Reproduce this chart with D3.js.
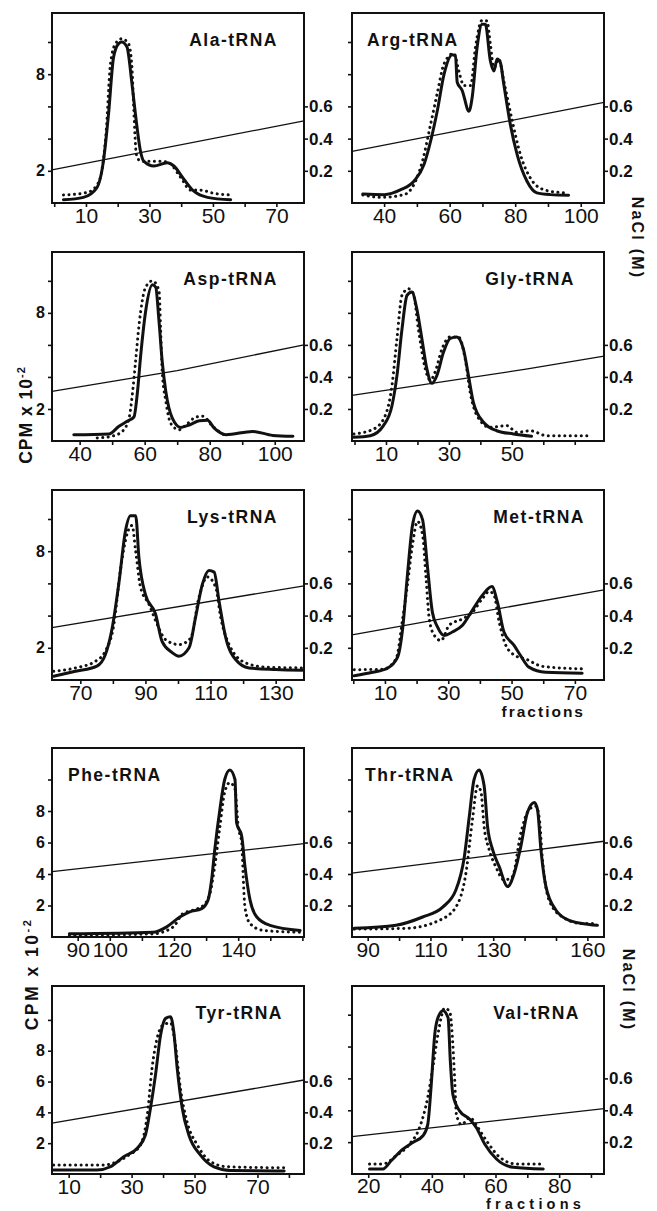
<!DOCTYPE html>
<html lang="en">
<head>
<meta charset="UTF-8">
<title>tRNA elution profiles</title>
<style>
  body { margin: 0; background: #fff; }
  svg text { font-family: "Liberation Sans", Arial, Helvetica, sans-serif; fill: #111; }
</style>
</head>
<body>
<div class="chart"></div>
<script src="https://cdnjs.cloudflare.com/ajax/libs/d3/7.8.5/d3.min.js"></script>
<script>
// ---- data: [fraction, CPM x 10^-2] for the profiles, [fraction, NaCl M] for the gradient ----
var titles = ["Ala-tRNA", "Arg-tRNA", "Asp-tRNA", "Gly-tRNA", "Lys-tRNA",
              "Met-tRNA", "Phe-tRNA", "Thr-tRNA", "Tyr-tRNA", "Val-tRNA"]

var alaSolid = [[2.9,0.2],[9.2,0.35],[13.4,0.94],[15.5,2.6],[17.1,5.5],[18.7,9.06],[20.3,9.9],[21.3,10.0],[22.9,9.7],[24.5,7.4],[25.6,5.5],[27.2,3.2],[28.2,2.6],[31.4,2.3],[35.6,2.5],[37.7,2.3],[40.9,1.46],[44.0,0.73],[48.3,0.35],[55.6,0.2]]
var alaDotted = [[2.9,0.5],[10.3,0.65],[13.4,1.1],[15.0,2.0],[16.4,4.5],[17.7,8.6],[19.3,9.9],[21.3,10.2],[23.4,9.9],[24.5,8.4],[25.0,6.1],[25.9,3.0],[27.2,2.6],[30.3,2.6],[33.5,2.6],[36.1,2.5],[39.8,1.6],[43.0,0.8],[46.1,0.8],[50.3,0.6],[55.6,0.5]]
var alaSalt = [[-0.7,0.206],[78.7,0.51]]

var argSolid = [[33.5,0.56],[40.0,0.52],[45.1,0.83],[49.1,1.35],[52.2,2.4],[54.2,3.85],[56.2,5.7],[58.3,8.0],[60.8,9.2],[61.8,9.1],[62.3,7.5],[63.8,7.0],[65.9,5.7],[66.9,6.6],[68.4,9.7],[69.9,11.1],[70.9,11.1],[72.4,8.85],[73.5,8.2],[74.5,8.95],[75.5,8.7],[76.5,7.4],[78.5,4.9],[80.6,3.0],[83.6,1.35],[86.6,0.63],[90.7,0.52],[96.3,0.48]]
var argDotted = [[33.5,0.5],[39.0,0.35],[46.1,0.52],[49.1,1.15],[51.7,2.6],[54.2,4.9],[56.2,6.8],[58.3,8.65],[61.3,9.3],[62.8,8.2],[64.3,7.3],[66.4,7.3],[67.9,9.7],[69.9,11.35],[71.4,11.3],[72.4,9.9],[73.5,8.4],[75.0,8.95],[76.5,7.6],[79.1,5.1],[81.6,3.0],[84.6,1.56],[88.7,0.83],[94.8,0.63]]
var argSalt = [[30.2,0.32],[107.1,0.625]]

var aspSolid = [[38.2,0.39],[49.0,0.44],[52.1,0.92],[54.6,1.23],[56.7,1.5],[57.7,2.9],[58.8,5.4],[60.3,8.1],[62.4,9.75],[63.4,9.6],[64.4,7.5],[65.4,4.95],[66.5,3.1],[68.5,1.43],[71.1,0.85],[73.7,1.0],[76.8,1.27],[79.3,1.3],[81.4,0.8],[85.0,0.39],[93.2,0.6],[99.4,0.35],[105.6,0.3]]
var aspDotted = [[45.4,0.19],[49.9,0.3],[53.1,0.6],[55.2,1.43],[56.2,2.9],[57.2,4.95],[58.3,7.3],[60.3,9.6],[62.4,10.0],[64.4,9.4],[64.9,7.0],[65.4,4.3],[66.5,2.5],[68.0,1.1],[70.6,0.7],[72.7,1.0],[75.8,1.5],[77.8,1.55],[80.9,0.92],[85.0,0.3]]
var aspSalt = [[31.5,0.31],[70,0.44],[109,0.6]]

var glySolid = [[-0.3,0.23],[5.0,0.33],[9.2,0.96],[11.9,2.2],[13.5,4.1],[15.1,7.0],[16.7,9.1],[18.2,9.3],[19.8,8.25],[21.4,6.4],[23.0,4.5],[24.6,3.6],[26.2,4.1],[28.3,5.55],[30.4,6.4],[32.5,6.5],[34.6,5.75],[36.2,4.1],[37.8,2.4],[41.0,1.17],[45.2,0.64],[50.5,0.44],[56.3,0.3]]
var glyDotted = [[-0.2,0.44],[6.1,0.75],[9.8,1.6],[11.9,3.45],[13.5,6.4],[15.1,9.1],[17.2,9.5],[18.7,9.2],[20.3,7.0],[22.5,4.5],[24.1,3.8],[25.6,4.3],[27.8,5.75],[30.4,6.5],[33.0,6.5],[35.2,5.1],[36.8,3.0],[38.9,1.6],[43.1,0.85],[48.4,0.96],[51.6,0.54],[55.8,0.64],[61.1,0.33],[74.9,0.33]]
var glySalt = [[-0.8,0.285],[55,0.45],[79.3,0.53]]

var lysSolid = [[61.8,0.23],[68.5,0.54],[75.1,0.86],[77.7,1.58],[79.8,3.25],[81.8,5.95],[83.9,9.3],[85.4,10.2],[87.0,10.2],[88.0,7.6],[90.0,5.3],[93.1,4.1],[95.1,2.4],[98.2,1.7],[100.3,1.48],[103.4,2.0],[105.4,3.9],[107.5,5.95],[109.5,6.8],[111.1,6.7],[112.6,4.9],[114.7,2.6],[117.7,1.27],[121.8,0.75],[130.0,0.65],[138.2,0.6]]
var lysDotted = [[61.8,0.54],[68.5,0.75],[74.7,1.17],[77.7,1.8],[80.3,3.45],[82.3,6.8],[84.4,9.1],[85.9,9.6],[87.0,8.0],[88.5,5.75],[91.1,4.7],[93.1,3.7],[96.2,2.5],[100.3,2.2],[103.9,2.6],[106.4,5.1],[109.0,6.4],[111.6,5.75],[113.1,3.9],[115.7,2.2],[120.8,1.06],[127.0,0.8],[138.2,0.75]]
var lysSalt = [[61.3,0.325],[138.7,0.585]]

var metSolid = [[0.3,0.27],[6.1,0.48],[10.8,0.73],[14.0,1.42],[15.6,3.2],[17.1,6.5],[18.7,9.6],[20.3,10.5],[21.9,9.95],[23.4,7.1],[25.0,4.2],[26.6,3.3],[28.7,2.77],[31.3,2.98],[34.5,3.4],[37.6,4.33],[40.8,5.27],[43.8,5.8],[45.5,4.86],[47.6,2.98],[50.8,2.15],[52.9,1.5],[55.5,0.8],[60.8,0.48],[72.3,0.42]]
var metDotted = [[0.3,0.64],[9.3,0.67],[13.5,1.3],[15.6,3.8],[17.1,5.9],[18.7,8.4],[20.3,9.85],[21.9,9.0],[23.0,6.3],[24.0,3.8],[25.6,2.77],[27.7,2.45],[30.3,3.4],[34.5,3.8],[37.6,4.2],[40.8,5.06],[42.9,5.5],[44.4,5.3],[46.1,3.6],[48.2,2.15],[51.3,1.5],[54.5,1.3],[59.7,0.85],[72.3,0.69]]
var metSalt = [[-0.4,0.28],[79.2,0.56]]

var pheSolid = [[87.4,0.2],[113.4,0.3],[117.6,0.63],[121.8,1.27],[124.9,1.6],[128.6,1.8],[130.6,2.34],[131.7,3.6],[132.7,5.55],[134.3,8.1],[135.8,10.0],[137.4,10.6],[139.0,10.0],[139.5,7.25],[141.1,6.4],[142.1,4.5],[143.7,2.34],[145.8,1.27],[149.9,0.74],[159.3,0.42]]
var pheDotted = [[87.4,0.1],[113.4,0.2],[119.7,0.63],[122.8,1.49],[125.9,1.7],[129.1,2.0],[131.2,2.77],[132.7,4.5],[134.3,7.0],[135.8,9.2],[137.4,9.8],[139.0,9.4],[140.0,7.0],[141.1,6.0],[141.6,3.6],[142.1,1.9],[143.7,0.85],[147.8,0.42],[159.3,0.3]]
var pheSalt = [[82,0.415],[160.5,0.593]]

var thrSolid = [[85.7,0.55],[99.0,0.75],[107.5,1.27],[113.9,1.9],[118.1,2.98],[120.8,5.1],[122.4,7.7],[123.9,10.0],[125.5,10.6],[127.1,9.6],[128.2,7.0],[129.8,5.55],[131.9,4.47],[134.6,3.2],[136.7,4.05],[138.8,5.75],[140.9,7.9],[143.1,8.54],[144.1,8.1],[145.2,5.55],[146.8,3.2],[150.0,1.7],[154.2,1.06],[160.6,0.8],[163.2,0.74]]
var thrDotted = [[85.7,0.5],[102.2,0.55],[112.8,1.06],[118.1,1.9],[121.3,4.05],[123.4,7.47],[125.0,9.6],[126.1,9.2],[127.1,7.0],[128.7,5.55],[130.8,4.47],[133.5,3.62],[136.1,3.83],[138.8,6.6],[141.5,8.1],[143.6,8.3],[144.7,7.5],[145.7,4.9],[147.8,2.34],[152.1,1.27],[158.4,0.85],[163.2,0.85]]
var thrSalt = [[85,0.405],[165.3,0.608]]

var tyrSolid = [[5.2,0.26],[19.0,0.26],[23.3,0.47],[27.5,1.12],[31.8,1.67],[34.4,2.53],[36.0,4.27],[37.6,6.43],[39.2,9.0],[40.8,10.1],[42.4,10.2],[43.4,9.24],[44.5,6.86],[46.1,4.27],[48.2,2.53],[51.9,1.23],[56.2,0.47],[61.5,0.23],[78.5,0.2]]
var tyrDotted = [[5.2,0.58],[21.1,0.58],[25.4,0.8],[29.1,1.23],[32.8,1.88],[35.0,3.83],[36.5,6.86],[38.1,8.8],[40.2,9.7],[42.4,9.8],[43.9,8.4],[45.5,5.57],[47.6,3.4],[50.9,1.88],[55.1,0.8],[60.4,0.47],[78.5,0.4]]
var tyrSalt = [[4.7,0.33],[84.8,0.61]]

var valSolid = [[20.4,0.31],[24.6,0.31],[27.2,0.83],[30.9,1.56],[34.0,1.98],[37.2,2.4],[38.7,3.1],[39.8,5.6],[40.9,8.75],[41.9,9.8],[43.5,10.25],[45.1,9.8],[45.8,7.1],[46.6,5.0],[48.7,3.96],[51.9,3.44],[54.0,2.9],[56.6,1.88],[60.3,0.94],[65.6,0.42],[75.0,0.31]]
var valDotted = [[20.4,0.63],[24.6,0.63],[28.8,1.15],[33.0,1.88],[36.1,2.9],[38.7,4.8],[40.3,6.67],[41.9,8.75],[44.0,10.4],[45.6,10.2],[46.6,8.1],[47.2,5.8],[47.7,3.75],[49.3,3.1],[51.9,3.54],[54.5,2.9],[57.2,2.08],[61.4,1.04],[66.6,0.63],[75.0,0.63]]
var valSalt = [[14.9,0.235],[94.1,0.41]]

// fraction range covered by each frame, and the labelled fractions
var xDomains = [[-0.7,78.7],[30.2,107.1],[31.5,109],[-0.8,79.3],[61.3,138.7],
                [-0.4,79.2],[82,160.5],[85,165.3],[4.7,84.8],[14.9,94.1]]
var xTickLabels = [[10,30,50,70],[40,60,80,100],[40,60,80,100],[10,30,50],[70,90,110,130],
                   [10,30,50,70],[90,100,120,140],[90,110,130,160],[10,30,50,70],[20,40,60,80]]
var yTicks = [2,4,6,8,10]
var yTickLabelsSparse = [2,8]
var yTickLabelsFull = [2,4,6,8]
var saltTicks = [0.2,0.4,0.6]

var solids = [alaSolid,argSolid,aspSolid,glySolid,lysSolid,metSolid,pheSolid,thrSolid,tyrSolid,valSolid]
var dots = [alaDotted,argDotted,aspDotted,glyDotted,lysDotted,metDotted,pheDotted,thrDotted,tyrDotted,valDotted]
var salts = [alaSalt,argSalt,aspSalt,glySalt,lysSalt,metSalt,pheSalt,thrSalt,tyrSalt,valSalt]

// ---- layout ----
var width = 657, height = 1211
var colX = [52, 352], panelW = 252
var rowTop = [13, 252, 490, 748, 986]
var rowBot = [203, 441, 680, 937, 1174]
var yTop = [11.8, 11.8, 11.8, 11.8, 11.8, 11.8, 12.0, 12.0, 12.2, 11.8]
// title anchor and offset from the frame's left edge
var titlePos = [["end",226],["start",15],["end",226],["end",223],["end",226],
                ["end",233],["start",16],["start",13],["end",231],["end",228]]

var svg = d3.select(".chart").append("svg")
  .attr("width", width).attr("height", height)

svg.append("rect").attr("width", width).attr("height", height).attr("fill", "#fff")

titles.forEach(function(title, i) {
  var col = i % 2, row = Math.floor(i / 2)
  var x0 = colX[col], x1 = x0 + panelW, y0 = rowTop[row], y1 = rowBot[row]

  var x = d3.scaleLinear().domain(xDomains[i]).range([x0, x1])
  var y = d3.scaleLinear().domain([0, yTop[i]]).range([y1, y0])
  var ySalt = d3.scaleLinear().domain([0, yTop[i] / 10]).range([y1, y0])

  var g = svg.append("g")

  var line = d3.line().x(function(d) { return x(d[0]) }).y(function(d) { return y(d[1]) })
    .curve(d3.curveMonotoneX)
  var saltLine = d3.line().x(function(d) { return x(d[0]) }).y(function(d) { return ySalt(d[1]) })

  g.append("path").attr("d", saltLine(salts[i]))
    .attr("fill", "none").attr("stroke", "#111").attr("stroke-width", 1.3)

  g.append("path").attr("d", line(dots[i]))
    .attr("fill", "none").attr("stroke", "#111").attr("stroke-width", 3)
    .attr("stroke-linecap", "round").attr("stroke-dasharray", "0.1 5.4")

  g.append("path").attr("d", line(solids[i]))
    .attr("fill", "none").attr("stroke", "#111").attr("stroke-width", 3)
    .attr("stroke-linejoin", "round").attr("stroke-linecap", "round")

  // frame
  g.append("rect").attr("x", x0).attr("y", y0).attr("width", panelW).attr("height", y1 - y0)
    .attr("fill", "none").attr("stroke", "#111").attr("stroke-width", 2)

  // bottom axis
  var xTicks = d3.range(Math.ceil(xDomains[i][0] / 10) * 10, xDomains[i][1], 10)
  var xAxis = d3.axisBottom(x).tickValues(xTicks).tickSize(4)
    .tickFormat(function(d) { return xTickLabels[i].indexOf(d) >= 0 ? d : "" })
  var gx = g.append("g").attr("transform", "translate(0," + y1 + ")").call(xAxis)
  gx.select(".domain").remove()
  gx.selectAll("line").attr("stroke", "#111").attr("stroke-width", 1.6)
  gx.selectAll("text").attr("font-size", 21).attr("fill", "#111")
    .attr("y", i === 9 ? 18.5 : 20).attr("dy", 0)

  // left axis (CPM)
  var leftLabels = col === 1 ? [] : (row >= 3 ? yTickLabelsFull : yTickLabelsSparse)
  var yAxis = d3.axisLeft(y).tickValues(yTicks).tickSize(4).tickPadding(3)
    .tickFormat(function(d) { return leftLabels.indexOf(d) >= 0 ? d : "" })
  var gy = g.append("g").attr("transform", "translate(" + x0 + ",0)").call(yAxis)
  gy.select(".domain").remove()
  gy.selectAll("line").attr("stroke", "#111").attr("stroke-width", 1.6)
  gy.selectAll("text").attr("font-size", 16).attr("font-weight", "bold").attr("fill", "#111")

  // right axis (NaCl)
  var saltAxis = d3.axisRight(ySalt).tickValues(saltTicks).tickSize(4).tickPadding(1)
    .tickFormat(d3.format(".1f"))
  var gs = g.append("g").attr("transform", "translate(" + x1 + ",0)").call(saltAxis)
  gs.select(".domain").remove()
  gs.selectAll("line").attr("stroke", "#111").attr("stroke-width", 1.6)
  gs.selectAll("text").attr("font-size", 17).attr("font-weight", "bold").attr("fill", "#111")

  // title
  g.append("text").attr("x", x0 + titlePos[i][1]).attr("y", y0 + 33)
    .attr("text-anchor", titlePos[i][0])
    .attr("font-size", 17.5).attr("font-weight", "bold").attr("letter-spacing", 1.5)
    .text(title)
})

// axis titles
function cpmLabel(cx, cy, spacing) {
  var t = svg.append("text").attr("transform", "translate(" + cx + "," + cy + ") rotate(-90)")
    .attr("text-anchor", "middle").attr("font-size", 17.5).attr("font-weight", "bold")
    .attr("letter-spacing", spacing)
  t.append("tspan").text("CPM x 10")
  t.append("tspan").attr("dy", -7).attr("font-size", 11).text("-2")
}
cpmLabel(32, 415, 1)
cpmLabel(38, 974, 2.5)

function naclLabel(cx, cy, spacing) {
  svg.append("text").attr("transform", "translate(" + cx + "," + cy + ") rotate(90)")
    .attr("text-anchor", "middle").attr("font-size", 16).attr("font-weight", "bold")
    .attr("letter-spacing", spacing).text("NaCl (M)")
}
naclLabel(632, 238, 2.2)
naclLabel(623, 990, 2.2)

svg.append("text").attr("x", 585).attr("y", 717).attr("text-anchor", "end")
  .attr("font-size", 15.5).attr("font-weight", "bold").attr("letter-spacing", 2).text("fractions")
svg.append("text").attr("x", 585).attr("y", 1209).attr("text-anchor", "end")
  .attr("font-size", 14.5).attr("font-weight", "bold").attr("letter-spacing", 4.2).text("fractions")
</script>
</body>
</html>
